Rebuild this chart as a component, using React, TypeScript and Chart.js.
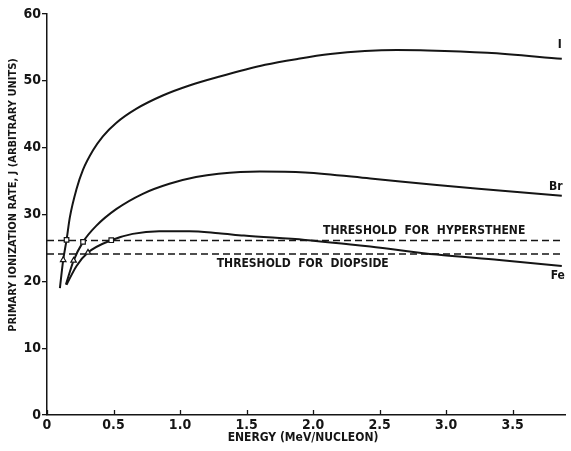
import React, { useEffect, useRef } from "react";
import { Chart, registerables } from "chart.js";

Chart.register(...registerables);

// ---- data ----
const xTickValues = [0, 0.5, 1.0, 1.5, 2.0, 2.5, 3.0, 3.5];
const xTickLabels = ["0", "0.5", "1.0", "1.5", "2.0", "2.5", "3.0", "3.5"];
const yTickValues = [0, 10, 20, 30, 40, 50, 60];
const yTickLabels = ["0", "10", "20", "30", "40", "50", "60"];

const iEnergy = [0.097, 0.122, 0.147, 0.172, 0.222, 0.271, 0.346, 0.42, 0.52, 0.67, 0.87, 1.07, 1.29, 1.64, 1.89, 2.13, 2.39, 2.63, 2.86, 3.31, 3.87];
const iRate = [19.0, 23.2, 26.2, 29.6, 33.8, 36.7, 39.6, 41.7, 43.7, 45.8, 47.8, 49.3, 50.6, 52.4, 53.3, 54.0, 54.45, 54.6, 54.55, 54.2, 53.3];

const brEnergy = [0.142, 0.2, 0.271, 0.37, 0.52, 0.72, 0.92, 1.12, 1.29, 1.6, 1.94, 2.43, 2.93, 3.4, 3.87];
const brRate = [19.5, 23.1, 25.9, 28.3, 30.8, 33.1, 34.6, 35.6, 36.1, 36.45, 36.3, 35.4, 34.4, 33.6, 32.8];

const feEnergy = [0.147, 0.222, 0.308, 0.483, 0.644, 0.843, 1.07, 1.29, 1.48, 1.94, 2.43, 2.93, 3.4, 3.87];
const feRate = [19.5, 22.3, 24.3, 26.15, 27.1, 27.5, 27.5, 27.2, 26.85, 26.2, 25.2, 24.0, 23.2, 22.3];

const curveNames = ["I", "Br", "Fe"];

const thresholdNames = ["THRESHOLD  FOR  HYPERSTHENE", "THRESHOLD  FOR  DIOPSIDE"];
const thresholdValues = [26.1, 24.1];
const thresholdStart = 0;
const thresholdEnd = 3.87;

const squareEnergy = [0.147, 0.271, 0.483];
const squareRate = [26.2, 25.9, 26.15];
const triangleEnergy = [0.122, 0.2, 0.308];
const triangleRate = [23.2, 23.1, 24.3];

const xTitle = "ENERGY (MeV/NUCLEON)";
const yTitle = "PRIMARY IONIZATION RATE, J (ARBITRARY UNITS)";

const INK = "#151515";
const FONT = "'Liberation Sans Narrow', 'DejaVu Sans Condensed', 'Liberation Sans', Arial, sans-serif";

const zip = (xs: number[], ys: number[]) => xs.map((x, i) => ({ x, y: ys[i] }));

const textPlugin = {
  id: "annotText",
  afterDraw(chart: any) {
    const { ctx, chartArea, scales } = chart;
    const xs = scales.x;
    const ys = scales.y;
    ctx.save();
    ctx.fillStyle = INK;
    ctx.strokeStyle = INK;

    // inward x ticks
    ctx.lineWidth = 1.3;
    xTickValues.forEach((v) => {
      const px = Math.round(xs.getPixelForValue(v)) + 0.5;
      ctx.beginPath();
      ctx.moveTo(px, chartArea.bottom);
      ctx.lineTo(px, chartArea.bottom - 5);
      ctx.stroke();
    });

    // axis titles
    ctx.font = `bold 12px ${FONT}`;
    ctx.textAlign = "center";
    ctx.textBaseline = "middle";
    ctx.fillText(xTitle, 303, 438);
    ctx.save();
    ctx.translate(13, 195);
    ctx.rotate(-Math.PI / 2);
    ctx.font = `bold 11px ${FONT}`;
    ctx.fillText(yTitle, 0, 0);
    ctx.restore();

    // threshold labels
    ctx.font = `bold 12px ${FONT}`;
    ctx.textAlign = "left";
    ctx.fillText(thresholdNames[0], xs.getPixelForValue(2.075), ys.getPixelForValue(thresholdValues[0]) - 10);
    ctx.fillText(thresholdNames[1], xs.getPixelForValue(1.276), ys.getPixelForValue(thresholdValues[1]) + 10);

    // curve labels
    ctx.textAlign = "center";
    const endX = xs.getPixelForValue(iEnergy[iEnergy.length - 1]);
    ctx.fillText(curveNames[0], endX - 2, ys.getPixelForValue(iRate[iRate.length - 1]) - 14);
    ctx.fillText(curveNames[1], endX - 6, ys.getPixelForValue(brRate[brRate.length - 1]) - 9);
    ctx.fillText(curveNames[2], endX - 4, ys.getPixelForValue(feRate[feRate.length - 1]) + 10);
    ctx.restore();
  },
};

export default function App() {
  const ref = useRef<HTMLCanvasElement | null>(null);

  useEffect(() => {
    if (!ref.current) return;
    const curve = (name: string, xs: number[], ys: number[]) => ({
      label: name,
      data: zip(xs, ys),
      borderColor: INK,
      borderWidth: 2,
      pointRadius: 0,
      cubicInterpolationMode: "monotone",
      fill: false,
      order: 2,
    });
    const chart = new Chart(ref.current, {
      type: "line",
      data: {
        datasets: [
          curve(curveNames[0], iEnergy, iRate),
          curve(curveNames[1], brEnergy, brRate),
          curve(curveNames[2], feEnergy, feRate),
          ...thresholdValues.map((t, i) => ({
            label: thresholdNames[i],
            data: [
              { x: thresholdStart, y: t },
              { x: thresholdEnd, y: t },
            ],
            borderColor: INK,
            borderWidth: 1.5,
            borderDash: [7, 4],
            pointRadius: 0,
            tension: 0,
            fill: false,
            order: 3,
          })),
          {
            label: "hypersthene crossings",
            data: zip(squareEnergy, squareRate),
            showLine: false,
            pointStyle: "rect",
            pointRadius: 3.2,
            backgroundColor: "#ffffff",
            borderColor: INK,
            borderWidth: 1.2,
            order: 1,
          },
          {
            label: "diopside crossings",
            data: zip(triangleEnergy, triangleRate),
            showLine: false,
            pointStyle: "triangle",
            pointRadius: 3.2,
            backgroundColor: "#ffffff",
            borderColor: INK,
            borderWidth: 1.2,
            order: 1,
          },
        ],
      },
      options: {
        animation: false,
        responsive: false,
        maintainAspectRatio: false,
        layout: { padding: { top: 14, right: 1, left: 0, bottom: 0 } },
        plugins: { legend: { display: false }, tooltip: { enabled: false }, title: { display: false } },
        scales: {
          x: {
            type: "linear",
            min: 0,
            max: 3.9,
            afterBuildTicks: (s: any) => {
              s.ticks = xTickValues.map((v) => ({ value: v }));
            },
            afterFit: (s: any) => {
              s.height = 36;
            },
            ticks: {
              padding: 2,
              color: INK,
              maxRotation: 0,
              autoSkip: false,
              font: { family: FONT, size: 14, weight: "bold" },
              callback: (v: any) => {
                const i = xTickValues.indexOf(Number(v));
                return i >= 0 ? xTickLabels[i] : "";
              },
            },
            grid: { display: false, drawTicks: false },
            border: { display: true, color: INK, width: 1.5 },
          },
          y: {
            type: "linear",
            min: 0,
            max: 60,
            afterBuildTicks: (s: any) => {
              s.ticks = yTickValues.map((v) => ({ value: v }));
            },
            afterFit: (s: any) => {
              s.width = 47;
            },
            ticks: {
              padding: 1,
              color: INK,
              autoSkip: false,
              font: { family: FONT, size: 14, weight: "bold" },
              callback: (v: any) => {
                const i = yTickValues.indexOf(Number(v));
                return i >= 0 ? yTickLabels[i] : "";
              },
            },
            grid: { display: true, drawOnChartArea: false, drawTicks: true, tickLength: 5, color: INK, lineWidth: 1.3 },
            border: { display: true, color: INK, width: 1.5 },
          },
        },
      },
      plugins: [textPlugin],
    } as any);
    return () => chart.destroy();
  }, []);

  return (
    <div style={{ position: "absolute", left: 0, top: 0, width: 571, height: 451, background: "#fff" }}>
      <canvas ref={ref} width={571} height={451} style={{ width: 571, height: 451, display: "block" }} />
    </div>
  );
}
